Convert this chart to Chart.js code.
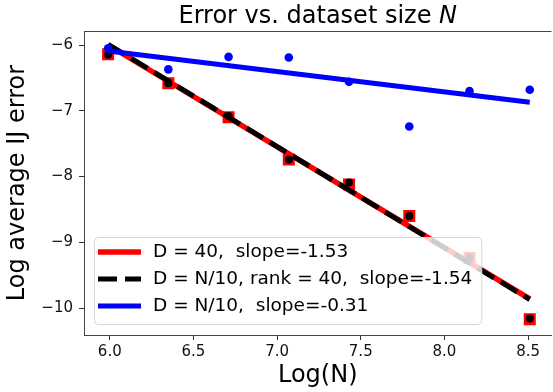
<!DOCTYPE html>
<html>
<head>
<meta charset="utf-8">
<script src="https://cdn.jsdelivr.net/npm/chart.js@4/dist/chart.umd.min.js"></script>
<style>
  html, body { margin: 0; padding: 0; background: #fff; }
  #wrap { width: 553px; height: 392px; overflow: hidden; }
</style>
</head>
<body>
<div id="wrap"><canvas id="chart" width="560" height="392"></canvas></div>
<script>
// Données
const logN = [5.99, 6.35, 6.71, 7.07, 7.43, 7.79, 8.15, 8.51];
const errD40 = [-6.14, -6.58, -7.10, -7.74, -8.12, -8.60, -9.24, -10.17];
const errRank40 = [-6.15, -6.58, -7.08, -7.74, -8.09, -8.60, -9.23, -10.16];
const errFull = [-6.05, -6.37, -6.18, -6.19, -6.56, -7.24, -6.70, -6.68];

// Droites de régression (extrémités)
const fitX = [5.99, 8.51];
const fitD40 = [-6.00, -9.86];
const fitRank40 = [-5.99, -9.87];
const fitFull = [-6.09, -6.87];

const xTicks = [6.0, 6.5, 7.0, 7.5, 8.0, 8.5];
const yTicks = [-6, -7, -8, -9, -10];
const legendLabels = [
    'D = 40,  slope=-1.53',
    'D = N/10, rank = 40,  slope=-1.54',
    'D = N/10,  slope=-0.31'
];

const FONT = '"DejaVu Sans", sans-serif';

function pts(xs, ys) {
    return xs.map((x, i) => ({ x: x, y: ys[i] }));
}

// Titre avec le N en italique + bord supérieur du cadre
const titlePlugin = {
    id: 'titlePlugin',
    afterDraw(chart) {
        const ctx = chart.ctx;
        const area = chart.chartArea;
        const a = 'Error vs. dataset size ';
        const b = 'N';
        ctx.save();
        ctx.strokeStyle = '#444';
        ctx.lineWidth = 1;
        ctx.beginPath();
        ctx.moveTo(area.left, area.top + 0.5);
        ctx.lineTo(area.right, area.top + 0.5);
        ctx.stroke();

        ctx.fillStyle = '#000';
        ctx.textBaseline = 'alphabetic';
        ctx.font = '24px ' + FONT;
        const wa = ctx.measureText(a).width;
        ctx.font = 'italic 24px ' + FONT;
        const wb = ctx.measureText(b).width;
        const cx = (area.left + area.right) / 2;
        const x0 = cx - (wa + wb) / 2;
        ctx.font = '24px ' + FONT;
        ctx.fillText(a, x0, 23);
        ctx.font = 'italic 24px ' + FONT;
        ctx.fillText(b, x0 + wa, 23);
        ctx.restore();
    }
};

// Légende dans un cadre semi-transparent, en bas à gauche
const legendBox = {
    id: 'legendBox',
    afterDatasetsDraw(chart) {
        const ctx = chart.ctx;
        const area = chart.chartArea;
        const items = chart.data.datasets.filter(d => d.legendText);
        ctx.save();
        ctx.font = '18.5px ' + FONT;
        const textW = Math.max(...items.map(d => ctx.measureText(d.legendText).width));
        const x0 = area.left + 10;
        const h = 87;
        const y0 = area.bottom - 11 - h;
        const w = 59 + textW + 9;

        ctx.beginPath();
        ctx.roundRect(x0 + 0.5, y0 + 0.5, w, h, 4);
        ctx.fillStyle = 'rgba(255,255,255,0.8)';
        ctx.fill();
        ctx.strokeStyle = '#d6d6d6';
        ctx.lineWidth = 1;
        ctx.stroke();

        items.forEach((d, i) => {
            const y = y0 + 15 + i * 27;
            ctx.beginPath();
            ctx.strokeStyle = d.borderColor;
            ctx.lineWidth = d.borderWidth;
            ctx.lineCap = 'butt';
            ctx.setLineDash(d.borderDash || []);
            ctx.moveTo(x0 + 4, y);
            ctx.lineTo(x0 + 47, y);
            ctx.stroke();
            ctx.setLineDash([]);
            ctx.fillStyle = '#000';
            ctx.textBaseline = 'middle';
            ctx.fillText(d.legendText, x0 + 59, y);
        });
        ctx.restore();
    }
};

const ctx = document.getElementById('chart').getContext('2d');
const chart = new Chart(ctx, {
    type: 'scatter',
    data: {
        datasets: [
            {
                data: pts(logN, errD40),
                pointStyle: 'rect',
                pointRadius: 8.5,
                backgroundColor: '#ff0000',
                borderWidth: 0,
                order: 6
            },
            {
                data: pts(fitX, fitD40),
                showLine: true,
                pointRadius: 0,
                borderColor: '#ff0000',
                borderWidth: 5.5,
                legendText: legendLabels[0],
                order: 5
            },
            {
                data: pts(logN, errRank40),
                pointRadius: 4,
                backgroundColor: '#000000',
                borderWidth: 0,
                order: 4
            },
            {
                data: pts(fitX, fitRank40),
                showLine: true,
                pointRadius: 0,
                borderColor: '#000000',
                borderWidth: 5,
                borderDash: [19, 8],
                legendText: legendLabels[1],
                order: 3
            },
            {
                data: pts(logN, errFull),
                pointRadius: 4.3,
                backgroundColor: '#0000ff',
                borderWidth: 0,
                order: 2
            },
            {
                data: pts(fitX, fitFull),
                showLine: true,
                pointRadius: 0,
                borderColor: '#0000ff',
                borderWidth: 5,
                legendText: legendLabels[2],
                order: 1
            }
        ]
    },
    options: {
        responsive: false,
        animation: false,
        devicePixelRatio: 1,
        layout: { padding: { left: 0, right: 4, top: 31, bottom: 0 } },
        plugins: {
            legend: { display: false },
            title: { display: false },
            tooltip: { enabled: false }
        },
        scales: {
            x: {
                type: 'linear',
                min: 5.846,
                max: 8.64,
                afterBuildTicks: s => { s.ticks = xTicks.map(v => ({ value: v })); },
                afterFit: s => { s.height = 57; },
                grid: { drawOnChartArea: false, drawTicks: true, tickLength: 5, tickColor: '#333' },
                border: { display: true, color: '#444', width: 1 },
                ticks: {
                    padding: 3,
                    color: '#111',
                    font: { family: FONT, size: 15 },
                    callback: v => v.toFixed(1)
                },
                title: {
                    display: true,
                    text: 'Log(N)',
                    color: '#000',
                    font: { family: FONT, size: 24 },
                    padding: { top: 0, bottom: 2 }
                }
            },
            y: {
                type: 'linear',
                min: -10.41,
                max: -5.787,
                afterBuildTicks: s => { s.ticks = yTicks.map(v => ({ value: v })); },
                afterFit: s => { s.width = 84; },
                grid: { drawOnChartArea: false, drawTicks: true, tickLength: 5, tickColor: '#333' },
                border: { display: true, color: '#444', width: 1 },
                ticks: {
                    padding: 6,
                    color: '#111',
                    font: { family: FONT, size: 15 },
                    callback: v => String(v).replace('-', '\u2212')
                },
                title: {
                    display: true,
                    text: 'Log average IJ error',
                    color: '#000',
                    font: { family: FONT, size: 24 },
                    padding: { top: 3, bottom: 0 }
                }
            }
        }
    },
    plugins: [legendBox, titlePlugin]
});
</script>
</body>
</html>
